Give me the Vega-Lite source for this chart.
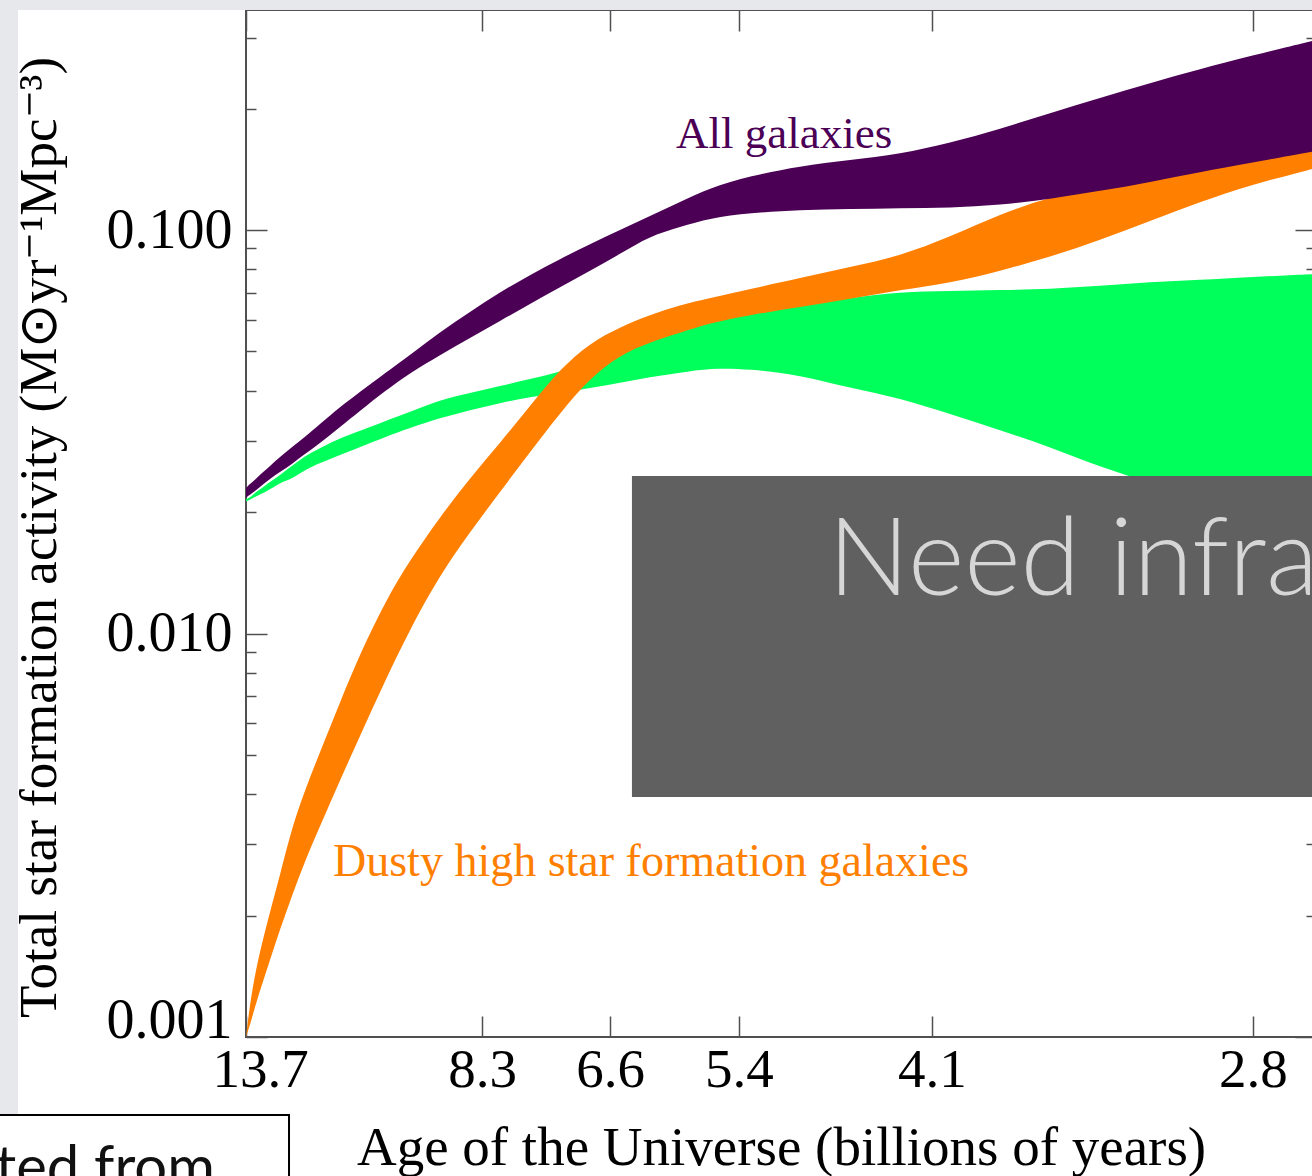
{
  "$schema": "https://vega.github.io/schema/vega-lite/v6.json",
  "width": 1070,
  "height": 1027,
  "autosize": {"type": "none"},
  "padding": {"left": 246, "top": 10, "right": 0, "bottom": 140},
  "background": "#ffffff",
  "config": {
    "view": {"stroke": "#505050", "strokeWidth": 2},
    "axis": {"grid": false, "domain": false, "tickColor": "#505050", "tickWidth": 1.5}
  },
  "datasets": {
    "bands": [
      {"t": 0, "series": "All", "lo": 0.02171, "hi": 0.02294},
      {"t": 0.37, "series": "All", "lo": 0.02209, "hi": 0.02347},
      {"t": 0.93, "series": "All", "lo": 0.0226, "hi": 0.02415},
      {"t": 1.5, "series": "All", "lo": 0.02334, "hi": 0.02499},
      {"t": 2.24, "series": "All", "lo": 0.02415, "hi": 0.02601},
      {"t": 3.18, "series": "All", "lo": 0.02513, "hi": 0.02738},
      {"t": 4.3, "series": "All", "lo": 0.02631, "hi": 0.02899},
      {"t": 5.51, "series": "All", "lo": 0.02785, "hi": 0.03069},
      {"t": 6.92, "series": "All", "lo": 0.02966, "hi": 0.03305},
      {"t": 8.79, "series": "All", "lo": 0.03249, "hi": 0.03642},
      {"t": 10.65, "series": "All", "lo": 0.0356, "hi": 0.03968},
      {"t": 12.99, "series": "All", "lo": 0.0399, "hi": 0.04422},
      {"t": 15.33, "series": "All", "lo": 0.04422, "hi": 0.04901},
      {"t": 18.13, "series": "All", "lo": 0.04901, "hi": 0.05587},
      {"t": 20.93, "series": "All", "lo": 0.05399, "hi": 0.06263},
      {"t": 23.74, "series": "All", "lo": 0.05949, "hi": 0.07021},
      {"t": 26.54, "series": "All", "lo": 0.06556, "hi": 0.07736},
      {"t": 29.35, "series": "All", "lo": 0.07224, "hi": 0.08475},
      {"t": 32.15, "series": "All", "lo": 0.07915, "hi": 0.09232},
      {"t": 34.95, "series": "All", "lo": 0.08721, "hi": 0.1},
      {"t": 37.76, "series": "All", "lo": 0.09664, "hi": 0.1083},
      {"t": 40.56, "series": "All", "lo": 0.1017, "hi": 0.1173},
      {"t": 43.36, "series": "All", "lo": 0.1071, "hi": 0.1271},
      {"t": 47.1, "series": "All", "lo": 0.1102, "hi": 0.1361},
      {"t": 51.78, "series": "All", "lo": 0.1121, "hi": 0.1441},
      {"t": 56.45, "series": "All", "lo": 0.1127, "hi": 0.1491},
      {"t": 61.12, "series": "All", "lo": 0.1134, "hi": 0.1543},
      {"t": 65.79, "series": "All", "lo": 0.1134, "hi": 0.1643},
      {"t": 70.47, "series": "All", "lo": 0.1153, "hi": 0.178},
      {"t": 75.14, "series": "All", "lo": 0.1194, "hi": 0.195},
      {"t": 79.81, "series": "All", "lo": 0.1249, "hi": 0.2124},
      {"t": 84.49, "series": "All", "lo": 0.1315, "hi": 0.2314},
      {"t": 89.16, "series": "All", "lo": 0.1392, "hi": 0.2506},
      {"t": 93.83, "series": "All", "lo": 0.1466, "hi": 0.2699},
      {"t": 100, "series": "All", "lo": 0.157, "hi": 0.2957},
      {"t": 0, "series": "Dusty", "lo": 0.001, "hi": 0.001},
      {"t": 0.37, "series": "Dusty", "lo": 0.00107, "hi": 0.00121},
      {"t": 0.93, "series": "Dusty", "lo": 0.00121, "hi": 0.00147},
      {"t": 1.5, "series": "Dusty", "lo": 0.00135, "hi": 0.00171},
      {"t": 2.24, "series": "Dusty", "lo": 0.00155, "hi": 0.00204},
      {"t": 3.18, "series": "Dusty", "lo": 0.00185, "hi": 0.00252},
      {"t": 4.3, "series": "Dusty", "lo": 0.00224, "hi": 0.00331},
      {"t": 5.51, "series": "Dusty", "lo": 0.00273, "hi": 0.00409},
      {"t": 6.92, "series": "Dusty", "lo": 0.00333, "hi": 0.00509},
      {"t": 8.79, "series": "Dusty", "lo": 0.00433, "hi": 0.00676},
      {"t": 10.65, "series": "Dusty", "lo": 0.00557, "hi": 0.0089},
      {"t": 12.99, "series": "Dusty", "lo": 0.00763, "hi": 0.01197},
      {"t": 15.33, "series": "Dusty", "lo": 0.01026, "hi": 0.01521},
      {"t": 18.13, "series": "Dusty", "lo": 0.01396, "hi": 0.01944},
      {"t": 20.93, "series": "Dusty", "lo": 0.01785, "hi": 0.02429},
      {"t": 23.74, "series": "Dusty", "lo": 0.02242, "hi": 0.02966},
      {"t": 26.54, "series": "Dusty", "lo": 0.02817, "hi": 0.03663},
      {"t": 29.35, "series": "Dusty", "lo": 0.03519, "hi": 0.04524},
      {"t": 32.15, "series": "Dusty", "lo": 0.04298, "hi": 0.05248},
      {"t": 34.95, "series": "Dusty", "lo": 0.04901, "hi": 0.05749},
      {"t": 37.76, "series": "Dusty", "lo": 0.05278, "hi": 0.06157},
      {"t": 40.56, "series": "Dusty", "lo": 0.05556, "hi": 0.06519},
      {"t": 43.36, "series": "Dusty", "lo": 0.05882, "hi": 0.06784},
      {"t": 47.1, "series": "Dusty", "lo": 0.06157, "hi": 0.07142},
      {"t": 51.78, "series": "Dusty", "lo": 0.06445, "hi": 0.07604},
      {"t": 56.45, "series": "Dusty", "lo": 0.06746, "hi": 0.08097},
      {"t": 61.12, "series": "Dusty", "lo": 0.07101, "hi": 0.08621},
      {"t": 65.79, "series": "Dusty", "lo": 0.0739, "hi": 0.09609},
      {"t": 70.47, "series": "Dusty", "lo": 0.07915, "hi": 0.1096},
      {"t": 75.14, "series": "Dusty", "lo": 0.08573, "hi": 0.1207},
      {"t": 79.81, "series": "Dusty", "lo": 0.09446, "hi": 0.1285},
      {"t": 84.49, "series": "Dusty", "lo": 0.1053, "hi": 0.1353},
      {"t": 89.16, "series": "Dusty", "lo": 0.1173, "hi": 0.1433},
      {"t": 93.83, "series": "Dusty", "lo": 0.1293, "hi": 0.1508},
      {"t": 100, "series": "Dusty", "lo": 0.1424, "hi": 0.1606},
      {"t": 0, "series": "Optical", "lo": 0.02123, "hi": 0.02154},
      {"t": 0.37, "series": "Optical", "lo": 0.02148, "hi": 0.02171},
      {"t": 0.93, "series": "Optical", "lo": 0.02185, "hi": 0.02242},
      {"t": 1.5, "series": "Optical", "lo": 0.02223, "hi": 0.02294},
      {"t": 2.24, "series": "Optical", "lo": 0.02274, "hi": 0.02374},
      {"t": 3.18, "series": "Optical", "lo": 0.02366, "hi": 0.02471},
      {"t": 4.3, "series": "Optical", "lo": 0.02415, "hi": 0.02601},
      {"t": 5.51, "series": "Optical", "lo": 0.02542, "hi": 0.02754},
      {"t": 6.92, "series": "Optical", "lo": 0.02646, "hi": 0.02882},
      {"t": 8.79, "series": "Optical", "lo": 0.02769, "hi": 0.03052},
      {"t": 10.65, "series": "Optical", "lo": 0.02899, "hi": 0.03176},
      {"t": 12.99, "series": "Optical", "lo": 0.03069, "hi": 0.03362},
      {"t": 15.33, "series": "Optical", "lo": 0.03231, "hi": 0.0354},
      {"t": 18.13, "series": "Optical", "lo": 0.0342, "hi": 0.03791},
      {"t": 20.93, "series": "Optical", "lo": 0.0358, "hi": 0.03945},
      {"t": 23.74, "series": "Optical", "lo": 0.03726, "hi": 0.04106},
      {"t": 26.54, "series": "Optical", "lo": 0.03856, "hi": 0.04273},
      {"t": 29.35, "series": "Optical", "lo": 0.03945, "hi": 0.04447},
      {"t": 32.15, "series": "Optical", "lo": 0.04059, "hi": 0.04709},
      {"t": 34.95, "series": "Optical", "lo": 0.04177, "hi": 0.05042},
      {"t": 37.76, "series": "Optical", "lo": 0.04322, "hi": 0.05399},
      {"t": 40.56, "series": "Optical", "lo": 0.04422, "hi": 0.05652},
      {"t": 43.36, "series": "Optical", "lo": 0.0455, "hi": 0.05916},
      {"t": 47.1, "series": "Optical", "lo": 0.04524, "hi": 0.06192},
      {"t": 51.78, "series": "Optical", "lo": 0.04372, "hi": 0.06519},
      {"t": 56.45, "series": "Optical", "lo": 0.04059, "hi": 0.06784},
      {"t": 61.12, "series": "Optical", "lo": 0.03834, "hi": 0.07021},
      {"t": 65.79, "series": "Optical", "lo": 0.03499, "hi": 0.07061},
      {"t": 70.47, "series": "Optical", "lo": 0.03194, "hi": 0.07101},
      {"t": 75.14, "series": "Optical", "lo": 0.02899, "hi": 0.07142},
      {"t": 79.81, "series": "Optical", "lo": 0.02586, "hi": 0.07265},
      {"t": 84.49, "series": "Optical", "lo": 0.02366, "hi": 0.07432},
      {"t": 89.16, "series": "Optical", "lo": 0.02135, "hi": 0.07518},
      {"t": 93.83, "series": "Optical", "lo": 0.01938, "hi": 0.07648},
      {"t": 100, "series": "Optical", "lo": 0.01649, "hi": 0.0778}
    ]
  },
  "data": {"name": "bands"},
  "resolve": {
    "scale": {"x": "shared", "y": "shared"},
    "axis": {"x": "independent", "y": "independent"}
  },
  "layer": [
    {
      "data": {"values": [{}]},
      "mark": {"type": "rect", "color": "#e6e8eb"},
      "encoding": {
        "x": {"datum": -40, "type": "quantitative", "scale": {"domain": [0, 100], "nice": false, "zero": false}, "axis": null},
        "x2": {"datum": -21.31},
        "y": {"datum": 0.0002, "type": "quantitative", "scale": {"type": "log", "domain": [0.001, 0.351], "nice": false}, "axis": null},
        "y2": {"datum": 0.6}
      }
    },
    {
      "data": {"values": [{}]},
      "mark": {"type": "rect", "color": "#e6e8eb"},
      "encoding": {
        "x": {"datum": -40, "type": "quantitative", "scale": {"domain": [0, 100], "nice": false, "zero": false}, "axis": null},
        "x2": {"datum": 110},
        "y": {"datum": 0.351, "type": "quantitative", "scale": {"type": "log", "domain": [0.001, 0.351], "nice": false}, "axis": null},
        "y2": {"datum": 0.6}
      }
    },
    {
      "transform": [{"filter": "datum.series === 'Optical'"}],
      "mark": {"type": "area", "color": "#00ff5a", "interpolate": "basis"},
      "encoding": {
        "x": {
          "field": "t", "type": "quantitative",
          "scale": {"domain": [0, 100], "nice": false, "zero": false},
          "axis": {
            "orient": "bottom",
            "values": [0, 22.06, 34.02, 46.07, 64.11, 94.11],
            "labelExpr": "datum.value < 10 ? '13.7' : datum.value < 30 ? '8.3' : datum.value < 40 ? '6.6' : datum.value < 55 ? '5.4' : datum.value < 80 ? '4.1' : '2.8'",
            "tickSize": -21,
            "labelFlush": false,
            "labelFont": "Liberation Serif", "labelFontSize": 55, "labelColor": "#000000",
            "labelPadding": 27,
            "labelOffset": {"condition": {"test": "datum.value < 10", "value": 14}, "value": 0},
            "title": "Age of the Universe (billions of years)",
            "titleFont": "Liberation Serif", "titleFontSize": 55, "titleFontWeight": "normal", "titleColor": "#000000",
            "titlePadding": 24
          }
        },
        "y": {
          "field": "hi", "type": "quantitative",
          "scale": {"type": "log", "domain": [0.001, 0.351], "nice": false},
          "axis": {
            "orient": "left",
            "values": [0.001, 0.01, 0.1],
            "format": ".3f",
            "tickSize": -21,
            "labelFlush": false,
            "labelFont": "Liberation Serif", "labelFontSize": 56, "labelColor": "#000000",
            "labelPadding": 35,
            "labelOffset": {"condition": {"test": "datum.value < 0.005", "value": -17}, "value": 0},
            "title": "Total star formation activity (M⊙yr⁻¹Mpc⁻³)",
            "titleFont": "Liberation Serif", "titleFontSize": 53, "titleFontWeight": "normal", "titleColor": "#000000",
            "titlePadding": 40,
            "titleY": 527
          }
        },
        "y2": {"field": "lo"}
      }
    },
    {
      "transform": [{"filter": "datum.series === 'Dusty'"}],
      "mark": {"type": "area", "color": "#ff8000", "interpolate": "basis"},
      "encoding": {
        "x": {
          "field": "t", "type": "quantitative",
          "scale": {"domain": [0, 100], "nice": false, "zero": false},
          "axis": {"orient": "top", "values": [0, 22.06, 34.02, 46.07, 64.11, 94.11], "tickSize": -21, "labels": false, "title": null}
        },
        "y": {
          "field": "hi", "type": "quantitative",
          "scale": {"type": "log", "domain": [0.001, 0.351], "nice": false},
          "axis": {"orient": "left", "values": [0.002, 0.003, 0.004, 0.005, 0.006, 0.007, 0.008, 0.009, 0.02, 0.03, 0.04, 0.05, 0.06, 0.07, 0.08, 0.09, 0.2, 0.3], "tickSize": -10, "labels": false, "title": null}
        },
        "y2": {"field": "lo"}
      }
    },
    {
      "transform": [{"filter": "datum.series === 'All'"}],
      "mark": {"type": "area", "color": "#4b0055", "interpolate": "basis"},
      "encoding": {
        "x": {"field": "t", "type": "quantitative", "scale": {"domain": [0, 100], "nice": false, "zero": false}, "axis": null},
        "y": {
          "field": "hi", "type": "quantitative",
          "scale": {"type": "log", "domain": [0.001, 0.351], "nice": false},
          "axis": {"orient": "right", "values": [0.001, 0.01, 0.1], "tickSize": -21, "labels": false, "title": null}
        },
        "y2": {"field": "lo"}
      }
    },
    {
      "transform": [{"filter": "datum.series === 'All'"}],
      "mark": {"type": "point", "opacity": 0},
      "encoding": {
        "x": {"field": "t", "type": "quantitative", "scale": {"domain": [0, 100], "nice": false, "zero": false}, "axis": null},
        "y": {
          "field": "hi", "type": "quantitative",
          "scale": {"type": "log", "domain": [0.001, 0.351], "nice": false},
          "axis": {"orient": "right", "values": [0.002, 0.003, 0.004, 0.005, 0.006, 0.007, 0.008, 0.009, 0.02, 0.03, 0.04, 0.05, 0.06, 0.07, 0.08, 0.09, 0.2, 0.3], "tickSize": -10, "labels": false, "title": null}
        }
      }
    },
    {
      "data": {"values": [{"label": "All galaxies"}]},
      "mark": {"type": "text", "align": "left", "baseline": "alphabetic", "font": "Liberation Serif", "fontSize": 45, "color": "#4b0055"},
      "encoding": {
        "x": {"datum": 40.19, "type": "quantitative", "scale": {"domain": [0, 100], "nice": false, "zero": false}, "axis": null},
        "y": {"datum": 0.1597, "type": "quantitative", "scale": {"type": "log", "domain": [0.001, 0.351], "nice": false}, "axis": null},
        "text": {"field": "label"}
      }
    },
    {
      "data": {"values": [{"label": "Dusty high star formation galaxies"}]},
      "mark": {"type": "text", "align": "left", "baseline": "alphabetic", "font": "Liberation Serif", "fontSize": 46, "color": "#ff8000"},
      "encoding": {
        "x": {"datum": 8.13, "type": "quantitative", "scale": {"domain": [0, 100], "nice": false, "zero": false}, "axis": null},
        "y": {"datum": 0.002506, "type": "quantitative", "scale": {"type": "log", "domain": [0.001, 0.351], "nice": false}, "axis": null},
        "text": {"field": "label"}
      }
    },
    {
      "data": {"values": [{}]},
      "mark": {"type": "rect", "color": "#606060"},
      "encoding": {
        "x": {"datum": 36.07, "type": "quantitative", "scale": {"domain": [0, 100], "nice": false, "zero": false}, "axis": null},
        "x2": {"datum": 105},
        "y": {"datum": 0.02457, "type": "quantitative", "scale": {"type": "log", "domain": [0.001, 0.351], "nice": false}, "axis": null},
        "y2": {"datum": 0.003934}
      }
    },
    {
      "data": {"values": [{"label": "Need infrared"}]},
      "mark": {"type": "text", "align": "left", "baseline": "alphabetic", "font": "Lato", "fontWeight": 300, "fontSize": 108, "color": "#d6d6d6"},
      "encoding": {
        "x": {"datum": 54.4, "type": "quantitative", "scale": {"domain": [0, 100], "nice": false, "zero": false}, "axis": null},
        "y": {"datum": 0.012457, "type": "quantitative", "scale": {"type": "log", "domain": [0.001, 0.351], "nice": false}, "axis": null},
        "text": {"field": "label"}
      }
    },
    {
      "data": {"values": [{}]},
      "mark": {"type": "rect", "fill": "#ffffff", "stroke": "#000000", "strokeWidth": 2},
      "encoding": {
        "x": {"datum": -40, "type": "quantitative", "scale": {"domain": [0, 100], "nice": false, "zero": false}, "axis": null},
        "x2": {"datum": 4.02},
        "y": {"datum": 0.000641, "type": "quantitative", "scale": {"type": "log", "domain": [0.001, 0.351], "nice": false}, "axis": null},
        "y2": {"datum": 0.0003}
      }
    },
    {
      "data": {"values": [{"label": "Adapted from"}]},
      "mark": {"type": "text", "align": "right", "baseline": "alphabetic", "font": "Lato", "fontSize": 58, "color": "#111111"},
      "encoding": {
        "x": {"datum": -2.9, "type": "quantitative", "scale": {"domain": [0, 100], "nice": false, "zero": false}, "axis": null},
        "y": {"datum": 0.000425, "type": "quantitative", "scale": {"type": "log", "domain": [0.001, 0.351], "nice": false}, "axis": null},
        "text": {"field": "label"}
      }
    }
  ]
}
